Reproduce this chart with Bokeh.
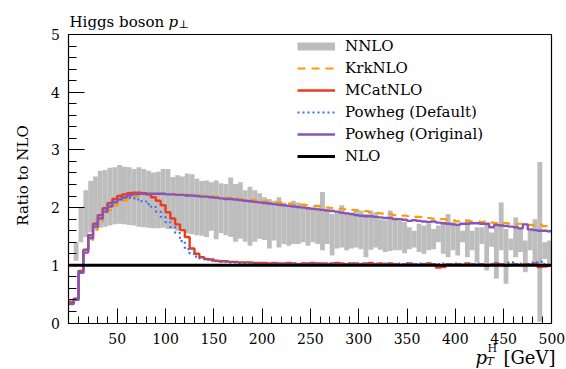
import math
from bokeh.plotting import figure
from bokeh.models import FixedTicker, Label, Legend, LegendItem, Range1d, LinearAxis
from bokeh.embed import file_html
from bokeh.resources import INLINE

# ---------------- data ----------------
# 5 GeV bins from 0 to 500 GeV
edges = list(range(0, 505, 5))

# NNLO band, bins start at 5 GeV
nnlo_lo = [1.08, 1.40, 1.49, 1.57, 1.63, 1.65, 1.67, 1.69, 1.71, 1.72,
           1.71, 1.70, 1.69, 1.67, 1.66, 1.65, 1.64, 1.64, 1.65, 1.63,
           1.63, 1.60, 1.59, 1.55, 1.54, 1.52, 1.51, 1.49, 1.60, 1.45,
           1.56, 1.52, 1.49, 1.41, 1.46, 1.41, 1.34, 1.41, 1.46, 1.44,
           1.29, 1.43, 1.31, 1.37, 1.34, 1.37, 1.37, 1.40, 1.34, 1.40,
           1.37, 1.26, 1.37, 1.17, 1.29, 1.31, 1.26, 1.29, 1.31, 1.28,
           1.14, 1.27, 1.31, 1.27, 1.23, 1.25, 1.26, 1.26, 1.21, 1.28,
           1.31, 1.23, 1.20, 1.26, 1.28, 1.40, 1.20, 1.14, 1.26, 1.17,
           1.40, 1.14, 1.26, 1.05, 1.37, 0.91, 1.32, 0.77, 1.26, 0.68,
           1.26, 1.14, 1.23, 0.88, 1.26, 1.05, 0.02, 1.11, 1.03]
nnlo_hi = [1.40, 2.01, 2.30, 2.46, 2.54, 2.64, 2.65, 2.69, 2.70, 2.74,
           2.71, 2.70, 2.67, 2.70, 2.67, 2.64, 2.61, 2.62, 2.67, 2.67,
           2.53, 2.56, 2.54, 2.59, 2.58, 2.50, 2.46, 2.47, 2.44, 2.47,
           2.42, 2.41, 2.52, 2.41, 2.44, 2.30, 2.36, 2.30, 2.25, 2.18,
           2.15, 2.12, 2.18, 2.09, 2.01, 2.12, 2.09, 2.04, 2.01, 1.98,
           2.00, 2.27, 1.95, 1.89, 1.92, 2.04, 1.92, 1.89, 1.98, 1.95,
           1.89, 1.95, 1.92, 1.80, 1.78, 1.95, 1.83, 1.78, 1.75, 1.66,
           1.60, 1.72, 1.69, 1.72, 1.63, 1.69, 1.72, 1.89, 1.75, 1.72,
           1.60, 1.80, 1.60, 1.66, 1.66, 1.72, 1.57, 1.69, 2.09, 1.63,
           1.46, 1.83, 1.66, 1.43, 1.60, 1.80, 2.79, 1.40, 1.43]

krknlo = [0.38, 0.45, 0.87, 1.20, 1.44, 1.62, 1.76, 1.87, 1.96, 2.03,
          2.08, 2.12, 2.15, 2.18, 2.20, 2.21, 2.22, 2.23, 2.23, 2.24,
          2.24, 2.24, 2.23, 2.23, 2.22, 2.22, 2.21, 2.21, 2.20, 2.19,
          2.19, 2.18, 2.17, 2.17, 2.16, 2.15, 2.14, 2.14, 2.13, 2.12,
          2.11, 2.10, 2.10, 2.09, 2.08, 2.07, 2.06, 2.06, 2.05, 2.04,
          2.03, 2.03, 2.01, 2.00, 1.99, 1.98, 1.98, 1.97, 1.96, 1.95,
          1.94, 1.94, 1.92, 1.91, 1.90, 1.89, 1.89, 1.87, 1.87, 1.86,
          1.85, 1.84, 1.84, 1.82, 1.82, 1.81, 1.81, 1.80, 1.79, 1.78,
          1.76, 1.77, 1.77, 1.76, 1.76, 1.75, 1.76, 1.74, 1.73, 1.74,
          1.73, 1.72, 1.71, 1.72, 1.70, 1.70, 1.69, 1.70, 1.68, 1.68]

mcatnlo = [0.35, 0.42, 0.90, 1.27, 1.52, 1.72, 1.87, 1.99, 2.08, 2.15,
           2.20, 2.23, 2.25, 2.26, 2.26, 2.25, 2.23, 2.18, 2.12, 2.04,
           1.92, 1.81, 1.71, 1.61, 1.49, 1.29, 1.20, 1.14, 1.11, 1.10,
           1.08, 1.07, 1.07, 1.06, 1.06, 1.05, 1.05, 1.05, 1.04, 1.04,
           1.04, 1.03, 1.04, 1.03, 1.03, 1.04, 1.03, 1.02, 1.03, 1.03,
           1.04, 1.03, 1.03, 1.02, 1.03, 1.04, 1.03, 1.02, 1.03, 1.03,
           1.02, 1.03, 1.04, 1.02, 1.03, 1.02, 1.03, 1.02, 1.01, 1.02,
           1.03, 1.02, 1.01, 1.02, 1.03, 1.02, 0.96, 0.97, 1.02, 1.01,
           1.02, 1.01, 1.03, 1.02, 1.01, 1.02, 0.99, 1.01, 1.03, 1.02,
           0.99, 1.01, 1.02, 1.00, 1.02, 1.01, 1.03, 0.97, 0.98, 0.99]

powheg_default = [0.35, 0.42, 0.90, 1.27, 1.52, 1.72, 1.86, 1.97, 2.05, 2.11,
                  2.15, 2.17, 2.17, 2.16, 2.14, 2.11, 2.06, 2.01, 1.93, 1.84,
                  1.75, 1.66, 1.56, 1.42, 1.28, 1.20, 1.15, 1.12, 1.10, 1.08,
                  1.07, 1.06, 1.06, 1.05, 1.05, 1.04, 1.04, 1.04, 1.03, 1.03,
                  1.03, 1.02, 1.03, 1.03, 1.02, 1.03, 1.04, 1.02, 1.03, 1.02,
                  1.03, 1.03, 1.02, 1.04, 1.02, 1.03, 1.02, 1.03, 1.03, 1.02,
                  1.03, 1.02, 1.02, 1.03, 1.02, 1.03, 1.02, 1.02, 1.03, 1.02,
                  1.04, 1.02, 1.03, 1.02, 1.01, 1.02, 1.02, 1.03, 1.01, 1.02,
                  1.03, 1.02, 1.01, 1.02, 1.03, 1.02, 1.01, 1.02, 1.03, 1.02,
                  1.01, 1.05, 1.02, 1.03, 1.01, 1.02, 1.05, 1.06, 1.02, 1.01]

powheg_original = [0.33, 0.40, 0.87, 1.22, 1.47, 1.67, 1.81, 1.93, 2.02, 2.09,
                   2.14, 2.18, 2.21, 2.23, 2.24, 2.24, 2.24, 2.24, 2.24, 2.24,
                   2.23, 2.23, 2.22, 2.22, 2.21, 2.21, 2.20, 2.19, 2.19, 2.18,
                   2.17, 2.16, 2.15, 2.15, 2.14, 2.13, 2.12, 2.11, 2.10, 2.09,
                   2.08, 2.07, 2.06, 2.05, 2.04, 2.03, 2.02, 2.01, 2.00, 1.99,
                   1.98, 1.97, 1.96, 1.95, 1.94, 1.93, 1.91, 1.90, 1.89, 1.87,
                   1.86, 1.85, 1.85, 1.84, 1.83, 1.82, 1.82, 1.80, 1.80, 1.79,
                   1.77, 1.78, 1.77, 1.76, 1.75, 1.76, 1.74, 1.73, 1.72, 1.71,
                   1.70, 1.72, 1.72, 1.73, 1.73, 1.72, 1.72, 1.66, 1.70, 1.69,
                   1.68, 1.67, 1.66, 1.64, 1.71, 1.62, 1.61, 1.60, 1.60, 1.59]

nlo = [1.0] * 100

x_major = [50, 100, 150, 200, 250, 300, 350, 400, 450, 500]
x_minor = list(range(0, 510, 10))
y_major = [0, 1, 2, 3, 4, 5]
y_minor = [i / 5 for i in range(0, 26)]

labels = ["NNLO", "KrkNLO", "MCatNLO", "Powheg (Default)", "Powheg (Original)", "NLO"]

# ---------------- layout ----------------
W, H = 566, 369
FX0, FX1 = 68.4, 551.4      # pixel position of x = 0 and x = 500
FY0, FY1 = 322.5, 34.0      # pixel position of y = 0 and y = 5
xs = (FX1 - FX0) / 500.0
ys = (FY0 - FY1) / 5.0

FONT = "DejaVu Serif"
C_NNLO = "#bdbdbd"
C_KRK = "#ff9a00"
C_MC = "#ec3a1c"
C_PD = "#3b6cf2"
C_PO = "#8755b8"

p = figure(width=W, height=H,
           x_range=Range1d(-FX0 / xs, (W - FX0) / xs),
           y_range=Range1d(-(H - FY0) / ys, FY0 / ys),
           x_axis_type=None, y_axis_type=None,
           output_backend="svg", toolbar_location=None,
           min_border=0)
p.grid.visible = False
p.outline_line_color = None
p.background_fill_color = "white"
p.border_fill_color = "white"

# NNLO band
p.quad(left=edges[1:100], right=edges[2:101], bottom=nnlo_lo, top=nnlo_hi,
       fill_color=C_NNLO, line_color=None)
nnlo_proxy = p.line(x=[math.nan], y=[math.nan], line_color=C_NNLO, line_width=8)


def step(vals, **kw):
    return p.step(x=edges, y=vals + [vals[-1]], mode="after", **kw)


r_krk = step(krknlo, line_color=C_KRK, line_width=2.2, line_dash="8 6")
r_mc = step(mcatnlo, line_color=C_MC, line_width=2.4)
r_pd = step(powheg_default, line_color=C_PD, line_width=2.2, line_dash="2 3")
r_po = step(powheg_original, line_color=C_PO, line_width=2.4)
r_nlo = step(nlo, line_color="black", line_width=3)

legend = Legend(items=[LegendItem(label=l, renderers=[r]) for l, r in
                       zip(labels, [nnlo_proxy, r_krk, r_mc, r_pd, r_po, r_nlo])],
                location=(297, H - 36 - 130), border_line_color=None, background_fill_alpha=0,
                glyph_width=38, glyph_height=20, label_height=20, label_standoff=10,
                spacing=2, padding=0, margin=0,
                label_text_font=FONT, label_text_font_size="15px", label_text_color="black")
p.add_layout(legend)

# axes, drawn at the data frame (x = 0..500, y = 0..5)
def style(ax):
    ax.axis_line_color = "black"
    ax.axis_line_width = 1.2
    ax.major_tick_line_color = "black"
    ax.minor_tick_line_color = "black"
    ax.major_tick_out = 0
    ax.minor_tick_out = 0
    ax.major_label_text_font = FONT
    ax.major_label_text_font_size = "14px"
    ax.major_label_text_color = "black"

xaxis = LinearAxis(fixed_location=0, bounds=(0, 500),
                   ticker=FixedTicker(ticks=x_major, minor_ticks=x_minor))
style(xaxis)
xaxis.major_tick_in = 15
xaxis.minor_tick_in = 7
xaxis.major_label_standoff = 10
p.add_layout(xaxis, "below")

yaxis = LinearAxis(fixed_location=0, bounds=(0, 5),
                   ticker=FixedTicker(ticks=y_major, minor_ticks=y_minor))
style(yaxis)
yaxis.major_tick_in = 16
yaxis.minor_tick_in = 8
yaxis.major_label_standoff = 9
p.add_layout(yaxis, "left")

top = LinearAxis(fixed_location=5, bounds=(0, 500), ticker=FixedTicker(ticks=[], minor_ticks=[]))
style(top)
p.add_layout(top, "above")
right = LinearAxis(fixed_location=500, bounds=(0, 5), ticker=FixedTicker(ticks=[], minor_ticks=[]))
style(right)
p.add_layout(right, "right")


# texts (screen pixels from the bottom-left corner)
def lab(x, y, t, size, style="normal", align="left", angle=0.0, baseline="alphabetic"):
    p.add_layout(Label(x=x, y=y, x_units="screen", y_units="screen", text=t,
                       text_font=FONT, text_font_size=size, text_font_style=style,
                       text_color="black", text_baseline=baseline, text_align=align,
                       angle=angle))


lab(69, H - 21, "Higgs boson", "15px")
lab(168, H - 21, "p", "15px", "italic")
lab(178, H - 24, "\u22a5", "11px")

lab(22, H - 175, "Ratio to NLO", "15px", align="center", angle=math.pi / 2, baseline="middle")

lab(475, H - 357, "p", "18px", "italic")
lab(487, H - 348, "H", "11px")
lab(486, H - 361, "T", "11px", "italic")
lab(555, H - 357, "[GeV]", "18px", align="right")

open("out.html", "w").write(file_html(p, INLINE))
